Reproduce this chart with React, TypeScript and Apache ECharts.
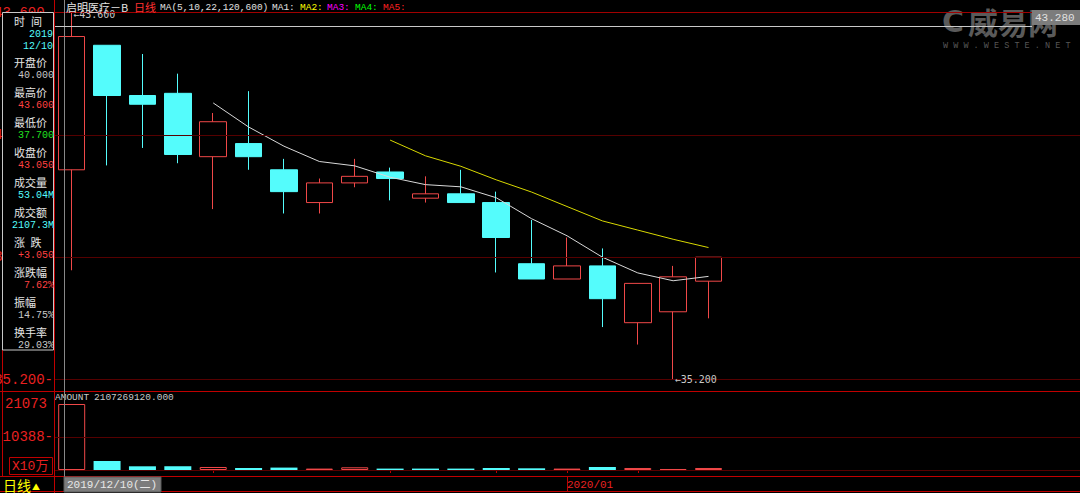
import React, { useEffect, useRef } from 'react';
import * as echarts from 'echarts';

// ---------- data ----------
const dates = ['2019/12/10', '2019/12/11', '2019/12/12', '2019/12/13', '2019/12/16', '2019/12/17', '2019/12/18', '2019/12/19', '2019/12/20', '2019/12/23', '2019/12/24', '2019/12/27', '2019/12/30', '2019/12/31', '2020/01/02', '2020/01/03', '2020/01/06', '2020/01/07', '2020/01/08'];
const opens = [40.0, 42.85, 41.7, 41.75, 40.3, 40.6, 40.0, 39.25, 39.7, 39.95, 39.35, 39.45, 39.25, 37.85, 37.5, 37.8, 36.5, 36.75, 37.45];
const closes = [43.05, 41.7, 41.5, 40.35, 41.1, 40.3, 39.5, 39.7, 39.85, 39.8, 39.45, 39.25, 38.45, 37.5, 37.8, 37.05, 37.4, 37.55, 38.0];
const lows = [37.7, 40.1, 40.5, 40.15, 39.1, 40.0, 39.0, 39.0, 39.6, 39.3, 39.25, 39.25, 37.65, 37.5, 37.5, 36.4, 36.0, 35.2, 36.6];
const highs = [43.6, 42.85, 42.65, 42.2, 41.3, 41.8, 40.25, 39.8, 40.25, 40.05, 39.85, 40.0, 39.5, 38.85, 38.45, 38.2, 37.4, 37.8, 38.0];
const ma5 = [null, null, null, null, 41.53, 40.98, 40.54, 40.19, 40.09, 39.83, 39.66, 39.61, 39.36, 38.88, 38.49, 38.0, 37.64, 37.46, 37.56];
const ma10 = [null, null, null, null, null, null, null, null, null, 40.68, 40.32, 40.08, 39.77, 39.49, 39.16, 38.83, 38.62, 38.41, 38.22];
const amounts = [21073, 2870, 1180, 1200, 960, 640, 770, 450, 860, 450, 450, 450, 640, 540, 450, 960, 640, 320, 640]; // x10万
const emptySlots = 10;
const priceTicks = [35.2, 38.0, 40.8, 43.6];
const amountTicks = [10388, 21073];
const crossPrice = 43.28;
const amountText = '2107269120.000';
const stockName = '启明医疗－B';
const maHeader = ['MA(5,10,22,120,600)', 'MA1:', 'MA2:', 'MA3:', 'MA4:', 'MA5:'];
const infoLabels = ['开盘价', '最高价', '最低价', '收盘价', '成交量', '成交额', '涨\u2002跌', '涨跌幅', '振幅', '换手率'];
const infoValues = ['40.000', '43.600', '37.700', '43.050', '53.04M', '2107.3M', '+3.050', '7.62%', '14.75%', '29.03%'];

// ---------- styles ----------
const MONO = '"Liberation Mono", "DejaVu Sans Mono", "Noto Sans CJK SC", monospace';
const DJ_MONO = '"DejaVu Sans Mono", monospace';
const CJK = '"Noto Sans CJK SC", sans-serif';
const UP = '#f04848';
const DOWN = '#54fcfc';
const GRID_RED = '#560000';
const FRAME_RED = '#c00000';
const AXIS_TXT = '#e82020';
const GRAY_TXT = '#c8c8c8';
const WHITE_TXT = '#e4e4e4';
const infoColors = [GRAY_TXT, '#ff4040', '#20e020', '#ff4040', DOWN, DOWN, '#ff4040', '#ff4040', GRAY_TXT, GRAY_TXT];
const maColors = ['#e0e0e0', '#e0e0e0', '#ffff00', '#ff00ff', '#00ff00', '#ff2020'];
const maHeaderX = [160, 272, 300, 327, 355, 383];

function txt(text: string, x: number, y: number, fill: string, fontSize: number, fontFamily: string, align = 'left', z = 101, extra: any = {}) {
  return {
    type: 'text', x, y, z, silent: true,
    style: { text, fill, fontSize, fontFamily, textAlign: align, align, textVerticalAlign: 'middle', verticalAlign: 'middle', ...extra },
  };
}
function line(x1: number, y1: number, x2: number, y2: number, stroke: string, z = 50) {
  return { type: 'line', z, silent: true, shape: { x1, y1, x2, y2 }, style: { stroke, lineWidth: 1 } };
}
function rect(x: number, y: number, width: number, height: number, fill: string, stroke: string | null, z = 100) {
  return { type: 'rect', z, silent: true, shape: { x, y, width, height }, style: { fill, stroke: stroke || 'none', lineWidth: 1 } };
}

const cats = [...dates, ...Array(emptySlots).fill('')];
const ymd = (d: string) => d.split('/').map(Number);
const weekday = (d: string) => { const [y, m, dd] = ymd(d); return new Date(y, m - 1, dd).getDay(); };
const monthLabels = dates.map((d, i) => (i > 0 && d.slice(0, 7) !== dates[i - 1].slice(0, 7) ? d.slice(0, 7) : ''));
const tickSet = new Set(dates.map((d, i) => (i > 0 && (weekday(d) < weekday(dates[i - 1]) || monthLabels[i]) ? i : -1)).filter((i) => i >= 0));
const monthIdx = monthLabels.map((m, i) => (m ? i : -1)).filter((i) => i >= 0);
const candles = dates.map((_, i) => [opens[i], closes[i], lows[i], highs[i]]);
const volData = amounts.map((v, i) => {
  const up = i === 0 ? closes[0] >= opens[0] : closes[i] >= closes[i - 1];
  return { value: v, itemStyle: up ? { color: '#000', borderColor: UP, borderWidth: 1 } : { color: DOWN, borderColor: DOWN, borderWidth: 0 } };
});

function staticGraphics(): any[] {
  const [y0, m0, d0] = dates[0].split('/');
  const dayNames = ['日', '一', '二', '三', '四', '五', '六'];
  const g: any[] = [];
  // frame lines
  g.push(line(54, 12.5, 1080, 12.5, '#a00000'));
  g.push(line(0, 391.5, 1080, 391.5, FRAME_RED));
  g.push(line(0, 476.5, 1080, 476.5, FRAME_RED));
  g.push(line(0, 491.5, 1080, 491.5, FRAME_RED));
  g.push(line(54.5, 0, 54.5, 493, FRAME_RED, 102));
  g.push(line(2.5, 340, 2.5, 476, FRAME_RED));
  // left info panel
  g.push(rect(2.5, 12.5, 51, 337.5, '#000', '#c8c8c8', 100));
  g.push(txt('时', 14, 21, WHITE_TXT, 11, CJK));
  g.push(txt('间', 31, 21, WHITE_TXT, 11, CJK));
  g.push(txt(y0, 53, 34, DOWN, 10, MONO, 'right'));
  g.push(txt(`${m0}/${d0}`, 53, 46, DOWN, 10, MONO, 'right'));
  infoLabels.forEach((t, k) => g.push(txt(t, 14, 62 + 30 * k, WHITE_TXT, 11, CJK)));
  infoValues.forEach((t, k) => g.push(txt(t, 54, 75.5 + 30 * k, infoColors[k], 10, MONO, 'right')));
  // volume unit box
  g.push(rect(9.5, 457.5, 43, 17, 'none', FRAME_RED, 60));
  g.push(txt('X10万', 12, 466, AXIS_TXT, 13, MONO, 'left', 61));
  // header
  g.push(txt(stockName, 66, 7, WHITE_TXT, 11, CJK, 'left', 60));
  g.push(txt('日线', 134, 7, '#ff3030', 11, CJK, 'left', 60));
  maHeader.forEach((t, k) => g.push(txt(t, maHeaderX[k], 7, maColors[k], 9.5, MONO, 'left', 60)));
  // amount header
  g.push(txt('AMOUNT', 55, 397, GRAY_TXT, 9.5, MONO, 'left', 60));
  g.push(txt(amountText, 94, 397, GRAY_TXT, 9.5, MONO, 'left', 60));
  // bottom-left
  g.push(txt('日线', 3, 485, '#ffff00', 14, CJK, 'left', 60));
  g.push(txt('▲', 32, 486, '#ffff00', 8, CJK, 'left', 60));
  // crosshair vertical + date box
  g.push(line(64.5, 0, 64.5, 477, '#888888', 60));
  g.push(rect(64, 477, 97, 15, '#7c7c7c', '#5a5a5a', 61));
  g.push(txt(`${dates[0]}(${dayNames[weekday(dates[0])]})`, 67, 485, '#e8e8e8', 11, MONO, 'left', 62));
  // watermark
  g.push(txt('C', 942, 21, 'rgba(120,120,120,0.75)', 30, '"DejaVu Sans", sans-serif', 'left', 40, { fontWeight: 'bold' }));
  g.push(txt('威易网', 968, 21, 'rgba(120,120,120,0.75)', 30, CJK, 'left', 40, { fontWeight: 'bold' }));
  g.push(txt('W W W . W E S T E . N E T', 943, 46, 'rgba(110,110,110,0.8)', 8.5, MONO, 'left', 40));
  return g;
}

function buildOption(extra: any[]) {
  return {
    backgroundColor: '#000000',
    animation: false,
    grid: [
      { left: 54, right: 0, top: 12.5, height: 367 },
      { left: 54, right: 0, top: 404, height: 66 },
    ],
    xAxis: [
      { type: 'category', gridIndex: 0, data: cats, show: false },
      {
        type: 'category', gridIndex: 1, data: cats, offset: 6,
        axisLine: { show: false },
        axisTick: { show: true, alignWithLabel: true, length: 3, interval: (i: number) => tickSet.has(i), lineStyle: { color: FRAME_RED } },
        axisLabel: { interval: 0, formatter: (_v: string, i: number) => monthLabels[i] || '', align: 'left', margin: 3, color: AXIS_TXT, fontFamily: MONO, fontSize: 11 },
        splitLine: { show: false },
      },
    ],
    yAxis: [
      { type: 'value', gridIndex: 0, min: priceTicks[0], max: priceTicks[priceTicks.length - 1], show: false },
      { type: 'value', gridIndex: 1, min: 0, max: amountTicks[amountTicks.length - 1], show: false },
    ],
    series: [
      {
        type: 'candlestick', xAxisIndex: 0, yAxisIndex: 0, data: candles, barWidth: 27,
        itemStyle: { color: '#000000', color0: DOWN, borderColor: UP, borderColor0: DOWN, borderWidth: 1 },
        markLine: {
          silent: true, symbol: ['none', 'none'], animation: false,
          lineStyle: { color: GRID_RED, type: 'solid', width: 1 },
          label: { show: true, position: 'start', distance: 1, color: AXIS_TXT, fontFamily: MONO, fontSize: 14, formatter: (p: any) => Number(p.value).toFixed(3) + '-' },
          data: priceTicks.map((v) => ({ yAxis: v })),
        },
        markPoint: {
          silent: true, symbol: 'circle', symbolSize: 1, animation: false,
          itemStyle: { color: 'rgba(0,0,0,0)' },
          label: { show: true, position: 'right', distance: 1, color: GRAY_TXT, fontFamily: DJ_MONO, fontSize: 10, formatter: (p: any) => '←' + Number(p.value).toFixed(3) },
          data: [
            { type: 'max', valueDim: 'highest', label: { offset: [0, 2] } },
            { type: 'min', valueDim: 'lowest' },
          ],
        },
      },
      { type: 'line', xAxisIndex: 0, yAxisIndex: 0, data: ma5, symbol: 'none', lineStyle: { color: '#d8d8d8', width: 1 } },
      { type: 'line', xAxisIndex: 0, yAxisIndex: 0, data: ma10, symbol: 'none', lineStyle: { color: '#d8d800', width: 1 } },
      {
        type: 'bar', xAxisIndex: 1, yAxisIndex: 1, data: volData, barWidth: 27,
        markLine: {
          silent: true, symbol: ['none', 'none'], animation: false,
          lineStyle: { color: GRID_RED, type: 'solid', width: 1 },
          label: { show: true, position: 'start', distance: 1, color: AXIS_TXT, fontFamily: MONO, fontSize: 14 },
          data: [
            { yAxis: 0, label: { show: false } },
            { yAxis: amountTicks[0], label: { formatter: (p: any) => `${p.value}-` } },
          ],
        },
      },
    ],
    graphic: [...staticGraphics(), ...extra],
  };
}

export default function App() {
  const ref = useRef<HTMLDivElement>(null);
  useEffect(() => {
    if (!ref.current) return;
    const chart = echarts.init(ref.current, null, { renderer: 'svg' });
    chart.setOption(buildOption([]) as any);
    const extra: any[] = [];
    const yc = chart.convertToPixel({ yAxisIndex: 0 } as any, crossPrice) as unknown as number;
    if (typeof yc === 'number' && isFinite(yc)) {
      const yl = Math.round(yc) + 0.5;
      extra.push(line(54, yl, 1032, yl, '#c8c8c8', 60));
      extra.push(rect(1032, yl - 16.5, 48, 15, '#7c7c7c', null, 60));
      extra.push(txt(crossPrice.toFixed(3), 1035, yl - 9, '#e0e0e0', 11, MONO, 'left', 61));
    }
    // top label of the amount pane, placed through the amount axis
    const ya = chart.convertToPixel({ yAxisIndex: 1 } as any, amountTicks[1]) as unknown as number;
    if (typeof ya === 'number' && isFinite(ya)) {
      extra.push(txt(String(amountTicks[1]), 47, ya, AXIS_TXT, 14, MONO, 'right', 61));
    }
    monthIdx.forEach((i) => {
      const xm = chart.convertToPixel({ xAxisIndex: 1 } as any, i) as unknown as number;
      if (typeof xm === 'number' && isFinite(xm)) {
        const xl = Math.round(xm) + 0.5;
        extra.push(line(xl, 476, xl, 491, FRAME_RED, 60));
      }
    });
    chart.setOption(buildOption(extra) as any, true);
    return () => chart.dispose();
  }, []);
  return <div ref={ref} style={{ position: 'fixed', left: 0, top: 0, width: 1080, height: 493 }} />;
}
